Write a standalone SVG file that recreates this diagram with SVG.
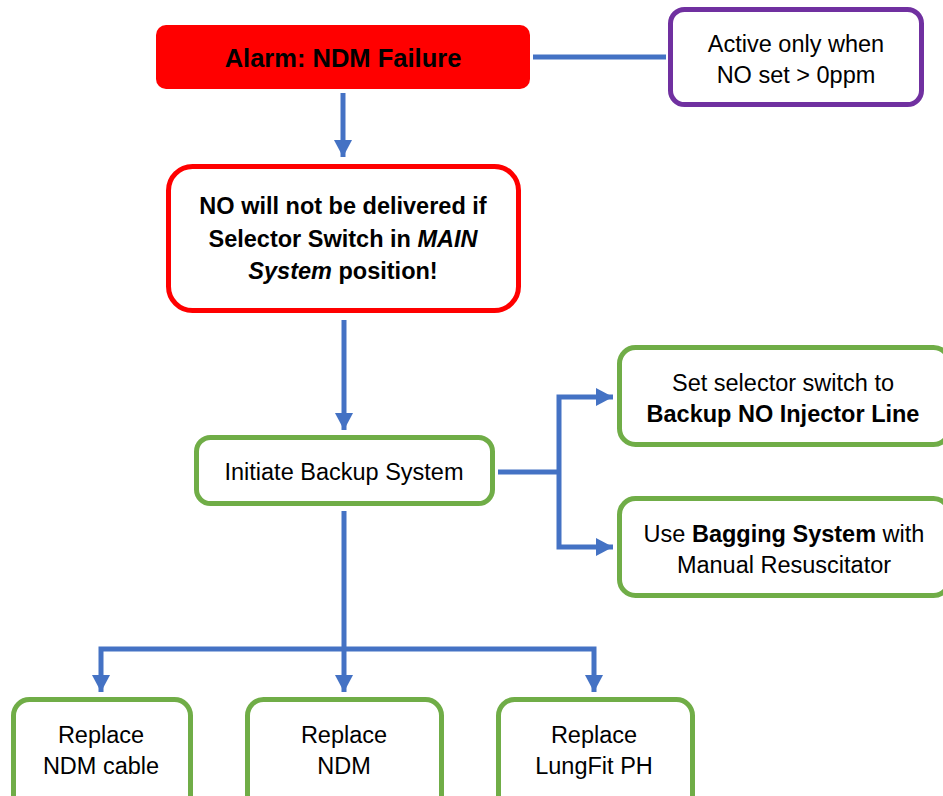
<svg xmlns="http://www.w3.org/2000/svg" width="943" height="796" viewBox="0 0 943 796">
<style>
.t{font-family:"Liberation Sans",Arial,sans-serif;font-size:23.5px;fill:#000;text-anchor:middle}
.b{font-weight:bold}
.i{font-style:italic}
.box{fill:#fff;stroke-width:5}
.g{stroke:#70AD47}
.c{fill:none;stroke:#4472C4;stroke-width:5;stroke-linejoin:miter}
</style>
<defs>
<marker id="ah" markerUnits="userSpaceOnUse" markerWidth="17" markerHeight="18" refX="17" refY="9" orient="auto">
<path d="M0,0 L17,9 L0,18 z" fill="#4472C4"/>
</marker>
</defs>
<rect width="943" height="796" fill="#fff"/>
<g id="connectors">
<path class="c" d="M533,57 H666"/>
<path class="c" d="M343,93 V157" marker-end="url(#ah)"/>
<path class="c" d="M344,320 V430" marker-end="url(#ah)"/>
<path class="c" d="M498,472 H559"/>
<path class="c" d="M559,472 V397 H613" marker-end="url(#ah)"/>
<path class="c" d="M559,472 V547 H613" marker-end="url(#ah)"/>
<path class="c" d="M344,511 V649"/>
<path class="c" d="M344,649 H101 V692" marker-end="url(#ah)"/>
<path class="c" d="M344,649 V692" marker-end="url(#ah)"/>
<path class="c" d="M344,649 H594 V692" marker-end="url(#ah)"/>
</g>
<g id="alarm">
<rect x="156" y="25" width="374" height="64" rx="10" fill="#FF0000"/>
<text class="t b" x="343" y="67" style="font-size:25.5px">Alarm: NDM Failure</text>
</g>
<g id="active">
<rect class="box" x="670.5" y="9.5" width="251" height="95" rx="14" stroke="#7030A0"/>
<text class="t" x="796" y="52">Active only when</text>
<text class="t" x="796" y="83">NO set &gt; 0ppm</text>
</g>
<g id="warning">
<rect class="box" x="168.5" y="166.5" width="350" height="144" rx="24" stroke="#FF0000"/>
<text class="t b" x="343" y="214">NO will not be delivered if</text>
<text class="t b" x="343" y="247">Selector Switch in <tspan class="i">MAIN</tspan></text>
<text class="t b" x="343" y="279"><tspan class="i">System</tspan> position!</text>
</g>
<g id="initiate">
<rect class="box g" x="196.5" y="437.5" width="296" height="66" rx="14"/>
<text class="t" x="344" y="480">Initiate Backup System</text>
</g>
<g id="selector">
<rect class="box g" x="619.5" y="347.5" width="330" height="97" rx="16"/>
<text class="t" x="783" y="391">Set selector switch to</text>
<text class="t b" x="783" y="422">Backup NO Injector Line</text>
</g>
<g id="bagging">
<rect class="box g" x="619.5" y="498.5" width="330" height="97" rx="16"/>
<text class="t" x="784" y="542">Use <tspan class="b">Bagging System</tspan> with</text>
<text class="t" x="784" y="573">Manual Resuscitator</text>
</g>
<g id="cable">
<rect class="box g" x="13.5" y="699.5" width="177" height="120" rx="16"/>
<text class="t" x="101" y="743">Replace</text>
<text class="t" x="101" y="774">NDM cable</text>
</g>
<g id="ndm">
<rect class="box g" x="247.5" y="699.5" width="194" height="120" rx="16"/>
<text class="t" x="344" y="743">Replace</text>
<text class="t" x="344" y="774">NDM</text>
</g>
<g id="lungfit">
<rect class="box g" x="498.5" y="699.5" width="194" height="120" rx="16"/>
<text class="t" x="594" y="743">Replace</text>
<text class="t" x="594" y="774">LungFit PH</text>
</g>
</svg>
